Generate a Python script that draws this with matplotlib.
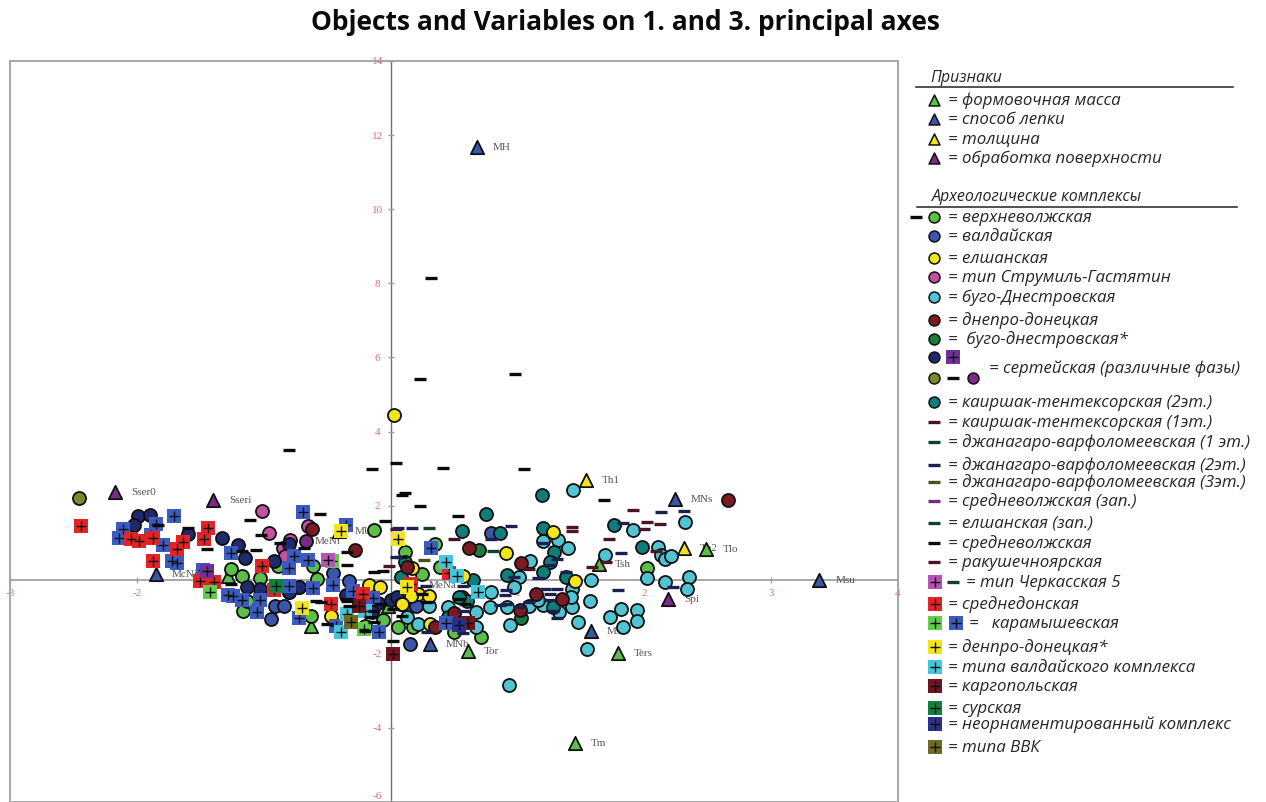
# -*- coding: utf-8 -*-
"""Objects and variables on principal axes 1 and 3."""

import matplotlib
matplotlib.use('Agg')
import matplotlib.pyplot as plt

plt.rcParams['font.family'] = ['Open Sans', 'DejaVu Sans']

# circles: x, y
green_x = [-1.26, -1.17, -1.03, -1.16, -0.13, -0.89, -0.61, -0.58, -0.63, -0.20, -0.06, 0.06, -1.13, 0.35, 0.11, 0.25, 0.39, 0.71, 0.18, 0.50, 2.02]
green_y = [0.30, 0.11, 0.05, -0.84, 1.35, 0.38, 0.38, 0.03, -0.97, -1.24, -1.08, -1.29, -0.57, 0.97, 0.76, 0.16, 0.35, -1.56, -1.27, -1.40, 0.32]
blue_x = [-0.94, -0.91, -0.84, -0.45, -0.33, 0.15, 0.79, 0.13, 0.20, -0.72, -0.80]
blue_y = [-1.05, -0.70, -0.70, 0.19, -0.03, -1.73, 1.27, -0.73, -0.70, -0.19, -0.32]
navy_x = [-1.99, -1.90, -2.02, -1.60, -1.33, -1.20, -1.15, -0.92, -0.80, -1.13, -1.03, -0.72, -0.80, -0.30, -0.25, -0.35, -0.20, -0.10, 0.00, 0.05, -0.15]
navy_y = [1.73, 1.75, 1.48, 1.24, 1.13, 0.94, 0.59, 0.51, 0.97, -0.19, -0.24, -0.19, -0.32, -0.30, -0.55, -0.40, -0.46, -0.62, -0.55, -0.46, -0.86]
yellow_x = [0.03, 0.91, 1.28, 1.45, 0.17, 0.17, 0.08, 0.22, 0.30, 0.31, -0.17, -0.08, -0.47, 0.57, 0.16, 0.09]
yellow_y = [4.45, 0.73, 1.30, -0.03, 0.32, -0.38, -0.65, -0.38, -0.43, -1.19, -0.13, -0.19, -0.97, 0.11, -0.43, -0.65]
pink_x = [-1.01, -0.96, -0.65, -0.79, -0.85, -0.83]
pink_y = [1.86, 1.27, 1.46, 1.08, 0.86, 0.65]
purple_x = [-0.67]
purple_y = [1.05]
cyan_x = [1.44, 2.32, 1.91, 1.32, 1.40, 1.20, 1.10, 1.69, 2.11, 2.13, 2.16, 2.21, 2.02, 2.16, 2.35, 2.34, 1.58, 1.43, 1.57, 1.43, 1.42, 1.01, 0.97, 0.92, 0.78, 0.79, 0.67, 0.67, 0.94, 1.09, 1.20, 1.16, 1.33, 1.48, 1.73, 1.82, 1.94, 1.94, 1.83, 1.55, 0.93, 0.45, 0.13, 0.30, 0.22]
cyan_y = [2.43, 1.56, 1.35, 1.08, 0.86, 1.05, 0.51, 0.67, 0.89, 0.67, 0.57, 0.65, 0.05, -0.05, 0.08, -0.24, 0.00, -0.24, -0.57, -0.73, -0.46, 0.08, -0.19, -0.73, -0.73, -0.32, -0.86, -1.27, -1.21, -0.70, -0.67, -0.54, -0.86, -1.13, -1.00, -0.78, -0.81, -1.11, -1.27, -1.86, -2.83, -0.73, -1.00, -0.70, -1.19]
darkred_x = [2.66, 0.62, 1.03, 1.15, 1.35, 1.02, 0.50, 0.35, 0.13, -0.62, -0.28]
darkred_y = [2.16, 0.86, 0.46, -0.38, -0.51, -0.81, -0.89, -1.29, 0.35, 1.38, 0.81]
teal_x = [0.75, 1.19, 0.56, 0.86, 1.20, 1.76, 1.98, 1.29, 1.26, 1.20, 1.38, 0.92, 0.65, 0.56, 0.60, 0.45, 1.28, 0.08, 0.11, 0.54]
teal_y = [1.78, 2.29, 1.32, 1.27, 1.40, 1.48, 0.89, 0.76, 0.49, 0.22, 0.08, 0.13, 0.00, -0.46, -0.57, -1.00, -0.73, 0.08, 0.49, -0.46]
dkgreen_x = [0.70, 1.03]
dkgreen_y = [0.81, -1.03]
olive_x = [-2.46]
olive_y = [2.21]

# dashes
dash_black_x = [0.32, 0.23, 0.98, 0.04, -0.15, 0.41, 1.05, 0.11, 0.09, 0.23, 0.53, -0.80, 1.68, -0.04, -0.56, -1.11, -1.02, -1.45, -1.06, -1.60, -1.83, -1.17, -0.87, -0.68, -0.34, -0.34, -0.13, -0.06, -0.50, -0.34, 0.02, -1.26,
                0.08, -0.35, -0.33, -0.13, -0.08, 0.02, 0.09, 0.29, 0.25, 0.54, 0.59, -0.13, -0.16, -0.20, -0.55, -0.59]
dash_black_y = [8.15, 5.42, 5.56, 3.16, 2.99, 3.02, 2.99, 2.35, 2.29, 2.00, 1.73, 3.51, 2.16, 1.59, 1.78, 1.62, 1.21, 0.84, 0.81, 1.40, 1.48, 0.78, 1.00, 0.86, 0.40, 0.76, 0.22, 0.24, -1.19, -0.57, -1.65, -0.11,
                0.62, -0.51, -0.70, -0.84, -0.65, -0.78, -0.97, -0.59, -0.38, -0.51, -0.65, -1.13, -1.00, -1.38, -0.59, -0.57]
dash_red_x = [1.91, 2.02, 2.12, 2.00, 1.72, 1.43, 1.43, 0.50, -0.01, 1.59, 1.70, 2.09, 1.09, 0.04]
dash_red_y = [1.89, 1.56, 1.51, 1.38, 1.11, 1.43, 1.32, 1.11, 0.38, 0.35, 0.49, 0.78, 0.30, 1.38]
dash_navy_x = [2.13, 2.31, 1.83, 1.82, 1.79, 2.23, 0.95, 0.17, 0.06, 1.31, 1.26, 1.20, 0.79, 0.04, 0.97, 1.16, 1.38, 0.91, 0.90, 0.86, 0.91, 1.22, 1.31, 1.26, 1.25, 1.09, 1.02, 1.28, 1.31, 0.57, 0.57, 0.57, 0.28, 0.29]
dash_navy_y = [1.83, 1.86, 1.54, 0.73, -0.27, -0.19, 1.46, 1.40, 1.40, 0.57, 0.40, 1.00, 1.11, 0.62, 0.08, 0.05, 0.22, -0.27, -0.40, -0.67, -0.65, -0.24, -0.24, -0.38, -0.54, -0.59, -0.73, -0.84, -1.03, -1.43, -0.16, -0.84, -0.16, -1.40]
dash_green_x = [0.30, 0.81]
dash_green_y = [1.40, 0.78]
dash_olive_x = [0.26]
dash_olive_y = [0.54]

# squares with a plus
sq_blue_x = [-1.71, -1.85, -2.11, -2.14, -1.89, -1.79, -1.72, -1.68, -1.48, -1.26, -1.28, -1.24, -1.17, -1.03, -1.05, -0.80, -0.76, -0.65, -0.69, -0.35, -0.80, -0.61, -0.45, -0.30, -0.14, -0.72, -0.43, -0.09, 0.32, 0.44]
sq_blue_y = [1.73, 1.51, 1.38, 1.13, 1.21, 0.94, 0.51, 0.46, 0.27, 0.73, -0.40, -0.43, -0.54, -0.54, -0.86, 0.32, 0.65, 0.54, 1.83, 1.48, -0.16, -0.22, -0.13, -0.30, -0.49, -1.03, -1.24, -1.40, 0.86, -1.16]
sq_red_x = [-2.44, -2.05, -1.98, -1.87, -1.68, -1.64, -1.47, -1.44, -1.50, -1.39, -1.87, -1.01, -0.92, -0.47, -0.22, 0.16, 0.46]
sq_red_y = [1.46, 1.11, 1.05, 1.13, 0.84, 1.03, 1.11, 1.40, -0.03, -0.05, 0.51, 0.38, -0.27, -0.65, -0.38, -0.11, 0.19]
sq_green_x = [-0.46, -1.42, -0.21]
sq_green_y = [0.51, -0.32, -1.32]
sq_pink_x = [-0.49]
sq_pink_y = [0.54]
sq_purple_x = [-1.45]
sq_purple_y = [0.24]
sq_yellow_x = [-0.39, -0.70, 0.06, 0.13]
sq_yellow_y = [1.32, -0.76, 1.11, -0.19]
sq_cyan_x = [0.44, 0.52, 0.69, -0.39, -0.34, -0.20]
sq_cyan_y = [0.49, 0.11, -0.32, -1.40, -0.92, -0.84]
sq_darkred_x = [0.02, -0.25, 0.61]
sq_darkred_y = [-2.00, -0.70, -1.16]
sq_sura_x = [-0.90]
sq_sura_y = [-0.16]
sq_navy_x = [0.54]
sq_navy_y = [-1.21]
sq_olive_x = [-0.31]
sq_olive_y = [-1.13]

# triangles and their names
tri_green_x = [0.61, 1.79, 1.45, 2.49, 1.64, -0.63, -1.28, -0.02]
tri_green_y = [-1.92, -1.97, -4.40, 0.84, 0.43, -1.24, 0.11, -0.70]
tri_green_names = ['Tor', 'Ters', 'Tm', 'Tlo', 'Tsh', '', '', '']
tri_blue_x = [0.68, 2.24, 3.38, 1.58, 0.31, -1.85]
tri_blue_y = [11.68, 2.18, 0.00, -1.38, -1.73, 0.16]
tri_blue_names = ['MH', 'MNs', 'Msu', 'Msr', 'MNb', 'McNi']
tri_yellow_x = [1.54, 2.31, -0.41]
tri_yellow_y = [2.70, 0.86, 1.32]
tri_yellow_names = ['Th1', 'Th2', 'MU']
tri_purple_x = [-2.17, -1.40, 2.19]
tri_purple_y = [2.37, 2.16, -0.51]
tri_purple_names = ['Sser0', 'Sseri', 'Spi']

x_ticks = [-3, -2, 1, 2, 3, 4]
y_ticks = [14, 12, 10, 8, 6, 4, 2, -2, -4, -6]

C = {'green': '#5cbf4a', 'blue': '#3b55a8', 'navy': '#1f2a6e', 'yellow': '#f4e41c',
     'pink': '#c452a4', 'purple': '#7b2a85', 'cyan': '#52c3d2', 'darkred': '#7c1a22',
     'teal': '#0e7f78', 'dkgreen': '#1b7a3e', 'olive': '#7d8a2c', 'red': '#e32426',
     'black': '#0a0a0a', 'dash_red': '#4a1525', 'dash_navy': '#1b2050',
     'dash_green': '#12402f', 'dash_olive': '#4a5020', 'sq_blue': '#3c5bc0',
     'sq_green': '#62cc4c', 'sq_cyan': '#46c6dc', 'sq_darkred': '#6e1520',
     'sq_pink': '#b653b5', 'sq_purple': '#70309a', 'sq_sura': '#10803f',
     'sq_navy': '#2b2f8a', 'sq_olive': '#6d6a22'}

fig = plt.figure(figsize=(12.66, 8.03), dpi=100)
ax = fig.add_axes([10 / 1266, 0.0, 888 / 1266, 741 / 803])
ax.set_xlim(-3, 4)
ax.set_ylim(-6, 14)
ax.set_xticks([])
ax.set_yticks([])
for s in ax.spines.values():
    s.set_color('#a0a0a0')
    s.set_linewidth(1.3)
ax.axhline(0, color='#a0a0a0', lw=1.3, zorder=1)
ax.axvline(0, color='#707070', lw=1.0, zorder=1)

# tick labels sit next to the zero lines
for t in x_ticks:
    ax.plot([t], [0], marker='|', ms=4, color='#a0a0a0', zorder=1)
    ax.annotate(str(t), (t, 0), xytext=(0, -13), textcoords='offset pixels', ha='center', va='center',
                fontsize=8, family='Liberation Serif', color='#e86a6a', zorder=1)
for t in y_ticks:
    ax.plot([0], [t], marker='_', ms=4, color='#a0a0a0', zorder=1)
    # the lowest label would be cut by the edge of the picture
    dy = 6 if t == -6 else 0
    ax.annotate(str(t), (0, t), xytext=(-13, dy), textcoords='offset pixels', ha='center', va='center',
                fontsize=8, family='Liberation Serif', color='#e86a6a', zorder=1)


def circles(x, y, col, z=3):
    ax.scatter(x, y, s=88, c=C[col], edgecolors='#101010', linewidths=1.3, zorder=z)


def squares(x, y, col, z=4):
    ax.scatter(x, y, s=108, c=C[col], marker='s', linewidths=0, zorder=z)
    ax.scatter(x, y, s=58, c='#101010', marker='+', linewidths=1.0, zorder=z)


def dashes(x, y, col, z=5):
    ax.plot(x, y, ls='none', marker='_', ms=9, mew=2.4, color=C[col], zorder=z)


def triangles(x, y, col, names, z=2.5):
    ax.scatter(x, y, s=92, c=C[col], marker='^', edgecolors='#101010', linewidths=1.3, zorder=z)
    for px, py, name in zip(x, y, names):
        if name:
            ax.annotate(name, (px, py), xytext=(16, 0), textcoords='offset pixels', va='center',
                        fontsize=8, family='Liberation Serif', color='#555555', zorder=2)


circles(green_x, green_y, 'green')
circles(blue_x, blue_y, 'blue')
circles(cyan_x, cyan_y, 'cyan')
circles(pink_x, pink_y, 'pink')
circles(purple_x, purple_y, 'purple')
circles(teal_x, teal_y, 'teal')
circles(dkgreen_x, dkgreen_y, 'dkgreen')
circles(navy_x, navy_y, 'navy')
circles(yellow_x, yellow_y, 'yellow')
circles(darkred_x, darkred_y, 'darkred')
circles(olive_x, olive_y, 'olive')

squares(sq_blue_x, sq_blue_y, 'sq_blue')
squares(sq_red_x, sq_red_y, 'red')
squares(sq_green_x, sq_green_y, 'sq_green')
squares(sq_pink_x, sq_pink_y, 'sq_pink')
squares(sq_purple_x, sq_purple_y, 'sq_purple')
squares(sq_yellow_x, sq_yellow_y, 'yellow')
squares(sq_cyan_x, sq_cyan_y, 'sq_cyan')
squares(sq_darkred_x, sq_darkred_y, 'sq_darkred')
squares(sq_sura_x, sq_sura_y, 'sq_sura')
squares(sq_navy_x, sq_navy_y, 'sq_navy')
squares(sq_olive_x, sq_olive_y, 'sq_olive')

dashes(dash_black_x, dash_black_y, 'black')
dashes(dash_red_x, dash_red_y, 'dash_red')
dashes(dash_navy_x, dash_navy_y, 'dash_navy')
dashes(dash_green_x, dash_green_y, 'dash_green')
dashes(dash_olive_x, dash_olive_y, 'dash_olive')

triangles(tri_green_x, tri_green_y, 'green', tri_green_names)
triangles(tri_blue_x, tri_blue_y, 'blue', tri_blue_names)
triangles(tri_yellow_x, tri_yellow_y, 'yellow', tri_yellow_names)
triangles(tri_purple_x, tri_purple_y, 'purple', tri_purple_names)
ax.text(-0.60, 1.05, 'MeNi', fontsize=8, family='Liberation Serif', color='#555555', va='center', zorder=2)
ax.text(0.30, -0.14, 'MeNa', fontsize=8, family='Liberation Serif', color='#555555', va='center', zorder=2)

fig.text(625 / 1266, 1 - 23 / 803, 'Objects and Variables on 1. and 3. principal axes',
         ha='center', va='center', fontsize=19, fontweight='bold', color='#0a0a0a')

# legend drawn on a page sized overlay
lg = fig.add_axes([0, 0, 1, 1], facecolor='none')
lg.set_xlim(0, 1266)
lg.set_ylim(803, 0)
lg.axis('off')


def ltext(x, y, s, size=12.2):
    lg.text(x, y, s, fontsize=size, style='italic', va='center', color='#262626')


def lmark(x, y, kind, col):
    if kind == 'o':
        lg.scatter([x], [y], s=62, c=C[col], edgecolors='#101010', linewidths=1.1)
    elif kind == '^':
        lg.scatter([x], [y], s=62, c=C[col], marker='^', edgecolors='#101010', linewidths=1.1)
    elif kind == '-':
        lg.plot([x], [y], marker='_', ms=8, mew=2.4, color=C[col])
    else:
        lg.scatter([x], [y], s=90, c=C[col], marker='s', linewidths=0)
        lg.scatter([x], [y], s=55, c='#101010', marker='+', linewidths=1.0)


ltext(930, 78, 'Признаки', 11.5)
lg.plot([916, 1233], [88, 88], color='#222222', lw=1.1)
ltext(932, 197, 'Археологические комплексы', 11.5)
lg.plot([917, 1237], [208, 208], color='#222222', lw=1.1)

legend_rows = [
    (101, '= формовочная масса', 948, [(934, '^', 'green')]),
    (120, '= способ лепки', 948, [(934, '^', 'blue')]),
    (140, '= толщина', 948, [(934, '^', 'yellow')]),
    (159, '= обработка поверхности', 948, [(934, '^', 'purple')]),
    (218, '= верхневолжская', 948, [(916, '-', 'black'), (934, 'o', 'green')]),
    (237, '= валдайская', 948, [(934, 'o', 'blue')]),
    (259, '= елшанская', 948, [(934, 'o', 'yellow')]),
    (278, '= тип Струмиль-Гастятин', 948, [(934, 'o', 'pink')]),
    (298, '= буго-Днестровская', 948, [(934, 'o', 'cyan')]),
    (321, '= днепро-донецкая', 948, [(934, 'o', 'darkred')]),
    (340, '=  буго-днестровская*', 948, [(934, 'o', 'dkgreen')]),
    (358, '', 0, [(934, 'o', 'navy'), (953, 's', 'sq_purple')]),
    (379, '', 0, [(934, 'o', 'olive'), (953, '-', 'black'), (973, 'o', 'purple')]),
    (369, '= сертейская (различные фазы)', 989, []),
    (403, '= каиршак-тентексорская (2эт.)', 948, [(934, 'o', 'teal')]),
    (423, '= каиршак-тентексорская (1эт.)', 948, [(934, '-', 'dash_red')]),
    (443, '= джанагаро-варфоломеевская (1 эт.)', 948, [(934, '-', 'dash_green')]),
    (466, '= джанагаро-варфоломеевская (2эт.)', 948, [(934, '-', 'dash_navy')]),
    (483, '= джанагаро-варфоломеевская (3эт.)', 948, [(934, '-', 'dash_olive')]),
    (502, '= средневолжская (зап.)', 948, [(934, '-', 'purple')]),
    (524, '= елшанская (зап.)', 948, [(934, '-', 'dash_green')]),
    (544, '= средневолжская', 948, [(934, '-', 'black')]),
    (563, '= ракушечноярская', 948, [(934, '-', 'dash_red')]),
    (583, '= тип Черкасская 5', 966, [(935, 's', 'sq_pink'), (953, '-', 'dash_green')]),
    (605, '= среднедонская', 948, [(935, 's', 'red')]),
    (624, '=   карамышевская', 969, [(935, 's', 'sq_green'), (956, 's', 'sq_blue')]),
    (648, '= денпро-донецкая*', 948, [(935, 's', 'yellow')]),
    (668, '= типа валдайского комплекса', 948, [(935, 's', 'sq_cyan')]),
    (687, '= каргопольская', 948, [(935, 's', 'sq_darkred')]),
    (709, '= сурская', 948, [(935, 's', 'sq_sura')]),
    (725, '= неорнаментированный комплекс', 948, [(935, 's', 'sq_navy')]),
    (748, '= типа ВВК', 948, [(935, 's', 'sq_olive')]),
]
for y, label, tx, marks in legend_rows:
    if label:
        ltext(tx, y, label)
    for mx, kind, col in marks:
        lmark(mx, y, kind, col)

fig.savefig('out.png', dpi=100)
